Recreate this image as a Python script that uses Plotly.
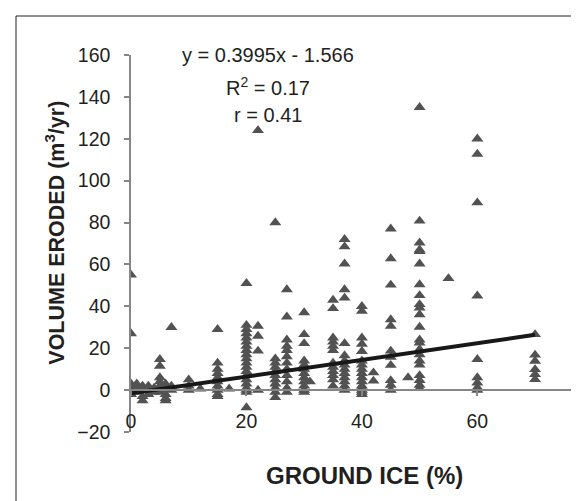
import plotly.graph_objects as go

# ---- data (ground ice %, volume eroded m3/yr) ----
ground_ice = (
    [0]*8 + [1]*4 + [2]*5 + [3]*3 + [4]*3 + [5]*7 + [6]*5 + [7]*3 + [10]*3 + [12] +
    [15]*10 + [17] + [20]*20 + [22]*5 + [25]*11 + [27]*12 + [30]*12 + [31] +
    [35]*12 + [37]*15 + [40]*16 + [42]*2 + [45]*11 + [48] + [50]*22 + [55] +
    [60]*9 + [70]*6
)
volume = (
    [55, 27, 3, 2, 1, 0, -1, -2] +
    [2, 0, -1, 3] +
    [1, -3, -5, 0, 2] +
    [2, 0, -2] +
    [1, 0, -1] +
    [14.7, 11.5, 6, 4, 2, 0, -1] +
    [3, 1, -2, -4, -5] +
    [30, 2, 0] +
    [5, 2, 0] +
    [0.6] +
    [29, 13, 10, 8, 6, 4, 2, 0, -2, -3] +
    [0.6] +
    [51, 31, 29, 27, 25, 23, 21, 19, 17, 15, 13, 11, 9, 7, 5, 3, 1, 0, -1, -8.3] +
    [124, 30.6, 25.8, 18.7, 0] +
    [80, 15, 13, 11, 9, 7, 5, 3, 1, -1, -3.5] +
    [48, 35, 24, 21, 19, 16, 13, 10, 7, 4, 1, -1] +
    [37, 26.6, 22.3, 14, 12, 10, 8, 6, 4, 2, 0, -1] +
    [4] +
    [43, 39, 25, 23, 21, 19, 13, 11, 9, 7, 5, 2] +
    [72, 68.5, 60.3, 48, 44, 22.3, 16.5, 14, 12, 10, 8, 6, 4, 2, 0] +
    [40, 37.7, 25, 22, 18.5, 14, 12, 10, 8, 6, 4, 2, 1, 0, -1, -2] +
    [8.3, 4.4] +
    [77, 62.8, 50.2, 33.7, 30.6, 18.7, 15.8, 11.9, 4.6, 2.4, 0] +
    [6] +
    [135, 80.8, 70.3, 67, 66.3, 60.3, 50.4, 45.2, 40.9, 39.3, 36.1, 30.1, 24, 22.6,
     19.5, 17, 14, 12, 7, 4.7, 2.4, 0.8] +
    [53.3] +
    [120, 112.7, 89.5, 45, 14.7, 6, 3.5, 1.2, 0] +
    [26.6, 16.8, 13.9, 9.9, 7.5, 5.1]
)

# trendline reported on the chart
slope = 0.3995
intercept = -1.566
trend_x = [0, 70]
trend_y = [slope * v + intercept for v in trend_x]

y_ticks = [-20, 0, 20, 40, 60, 80, 100, 120, 140, 160]
x_ticks = [0, 20, 40, 60]
eq_lines = ["y = 0.3995x - 1.566", "R<sup>2</sup> = 0.17", "r = 0.41"]

# ---- layout geometry (pixels) ----
W, H = 579, 501
L, R, T, B = 123, 0, 47, 77
PW, PH = W - L - R, H - T - B


def px(xp):
    return (xp - L) / PW


def py(yp):
    return (H - B - yp) / PH


FONT = "Arial, Liberation Sans, sans-serif"
TXT = "#231f20"
AX = "#868686"

fig = go.Figure()
fig.add_trace(go.Scatter(
    x=ground_ice, y=volume, mode="markers",
    marker=dict(symbol="triangle-up", size=10.5, color="#525252", line=dict(width=0)),
    showlegend=False, hoverinfo="x+y",
))
fig.add_trace(go.Scatter(
    x=trend_x, y=trend_y, mode="lines",
    line=dict(color="#1a1718", width=4), showlegend=False,
))

fig.update_layout(
    width=W, height=H,
    margin=dict(l=L, r=R, t=T, b=B, pad=0),
    paper_bgcolor="white", plot_bgcolor="white",
    font=dict(family=FONT, color=TXT, size=19.5),
    xaxis=dict(
        range=[0, 79], tickvals=x_ticks, ticktext=[str(v) for v in x_ticks],
        showgrid=False, zeroline=False, showline=True, linecolor=AX, linewidth=1.5,
        ticks="outside", ticklen=5, tickcolor=AX, tickwidth=1.5,
        anchor="free", position=20 / 180, ticklabelstandoff=9,
        tickfont=dict(size=19.5, color=TXT),
    ),
    yaxis=dict(
        range=[-20, 160], tickvals=y_ticks,
        showgrid=False, zeroline=False, showline=True, linecolor=AX, linewidth=1.5,
        ticks="outside", ticklen=5, tickcolor=AX, tickwidth=1.5,
        tickfont=dict(size=19.5, color=TXT), ticklabelstandoff=10,
    ),
)

ann = []
for text, yp in zip(eq_lines, [46.7, 78, 107]):
    ann.append(dict(text=text, xref="paper", yref="paper", x=px(260), y=py(yp),
                    xanchor="center", yanchor="middle", showarrow=False,
                    font=dict(size=20, color=TXT, family=FONT)))
# partially visible last x tick label
ann.append(dict(text="80", xref="paper", yref="paper", x=px(569), y=py(413),
                xanchor="left", yanchor="middle", showarrow=False,
                font=dict(size=19.5, color=TXT, family=FONT)))
ann.append(dict(text="<b>GROUND ICE (%)</b>", xref="paper", yref="paper", x=px(356), y=py(468),
                xanchor="center", yanchor="middle", showarrow=False,
                font=dict(size=24, color=TXT, family=FONT)))
ann.append(dict(text="<b>VOLUME ERODED (m<sup>3</sup>/yr)</b>", xref="paper", yref="paper",
                x=px(46.7), y=py(225), textangle=-90,
                xanchor="center", yanchor="middle", showarrow=False,
                font=dict(size=21.5, color=TXT, family=FONT)))
fig.update_layout(annotations=ann)

# outer chart frame (only left and top edges fall inside the image)
fig.add_shape(type="rect", xref="paper", yref="paper",
              x0=px(8), x1=px(640), y0=py(540), y1=py(8),
              line=dict(color="#231f20", width=1), layer="below")

fig.write_html("out.html")
